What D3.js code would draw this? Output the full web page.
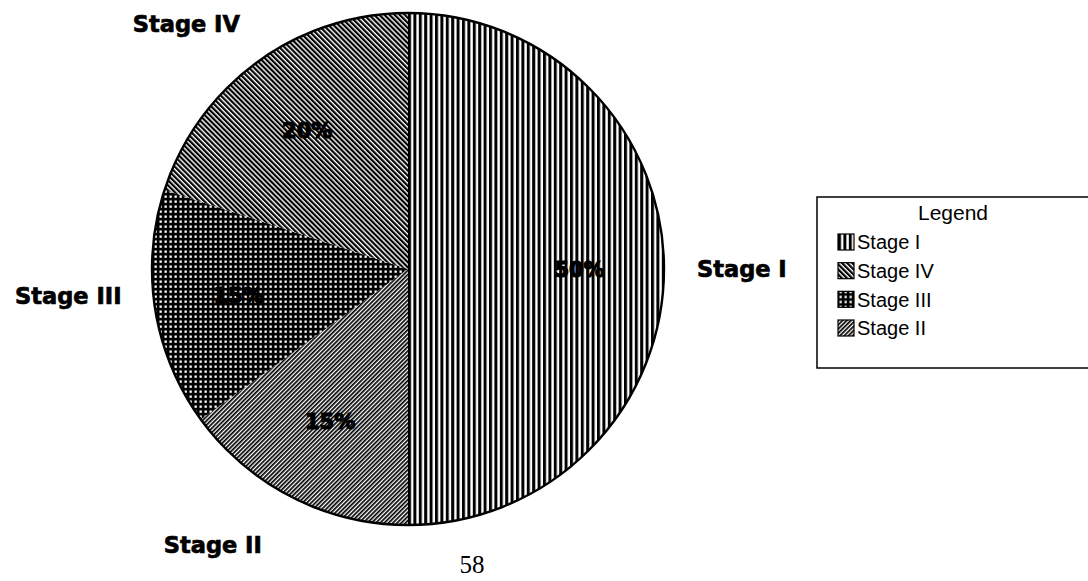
<!DOCTYPE html>
<html>
<head>
<meta charset="utf-8">
<script src="https://cdn.jsdelivr.net/npm/d3@7/dist/d3.min.js"></script>
<style>
  html, body { margin: 0; padding: 0; background: #fff; }
  svg { display: block; }
</style>
</head>
<body>
<svg id="chart" width="1088" height="581"></svg>
<script>
// ---- data ----
const categories = ["Stage I", "Stage II", "Stage III", "Stage IV"];
const values = [50, 15, 15, 20];
const pctLabels = ["50%", "15%", "15%", "20%"];
const legendOrder = ["Stage I", "Stage IV", "Stage III", "Stage II"];
const legendTitle = "Legend";
const pageNumber = "58";

// ---- layout ----
const cx = 408, cy = 269, R = 256;
const svg = d3.select("#chart");
const defs = svg.append("defs");

function pat(id) {
  return defs.append("pattern").attr("id", id).attr("patternUnits", "userSpaceOnUse");
}
// Stage I: vertical lines
const p1 = pat("p1").attr("width", 5.4).attr("height", 10);
p1.append("rect").attr("width", 5.4).attr("height", 10).attr("fill", "#fff");
p1.append("rect").attr("x", 0).attr("width", 3).attr("height", 10).attr("fill", "#000");
// Stage IV: "\" diagonals
const p4 = pat("p4").attr("width", 3.6).attr("height", 10).attr("patternTransform", "rotate(-45)");
p4.append("rect").attr("width", 3.6).attr("height", 10).attr("fill", "#fff");
p4.append("rect").attr("width", 2.2).attr("height", 10).attr("fill", "#000");
// Stage II: "/" diagonals, finer
const p2 = pat("p2").attr("width", 3.0).attr("height", 10).attr("patternTransform", "rotate(45)");
p2.append("rect").attr("width", 3.0).attr("height", 10).attr("fill", "#fff");
p2.append("rect").attr("width", 1.7).attr("height", 10).attr("fill", "#000");
// Stage III: grid (black with white squares)
const p3 = pat("p3").attr("width", 5).attr("height", 5);
p3.append("rect").attr("width", 5).attr("height", 5).attr("fill", "#000");
p3.append("rect").attr("x", 1.5).attr("y", 1.5).attr("width", 2.3).attr("height", 2.3).attr("fill", "#fff");

const fills = d3.scaleOrdinal()
  .domain(categories)
  .range(["url(#p1)", "url(#p2)", "url(#p3)", "url(#p4)"]);

const pie = d3.pie().sort(null).value(d => d.v).startAngle(0).endAngle(2 * Math.PI);
const arcs = pie(categories.map((c, i) => ({ c, v: values[i], p: pctLabels[i] })));

const g = svg.append("g").attr("transform", `translate(${cx},${cy})`);
const arc = d3.arc().innerRadius(0).outerRadius(R);
g.selectAll("path.slice").data(arcs).join("path")
  .attr("class", "slice")
  .attr("d", arc)
  .attr("fill", d => fills(d.data.c));
g.append("circle").attr("r", R).attr("fill", "none").attr("stroke", "#000").attr("stroke-width", 2.4);

// percentage labels
const inner = d3.arc().innerRadius(R * 0.67).outerRadius(R * 0.67);
g.selectAll("text.pct").data(arcs).join("text")
  .attr("class", "pct")
  .attr("transform", d => `translate(${inner.centroid(d)})`)
  .attr("text-anchor", "middle")
  .attr("dy", "0.36em")
  .style("font-family", "'DejaVu Sans', sans-serif")
  .style("font-weight", "bold")
  .style("font-size", "21px")
  .attr("fill", "#000")
  .attr("stroke", "#000")
  .attr("stroke-width", 1.2)
  .text(d => d.data.p);

// category labels outside
const outerTweak = { "Stage I": [289, 0], "Stage II": [322, -11], "Stage III": [290, -18], "Stage IV": [286, -14] };
g.selectAll("text.cat").data(arcs).join("text")
  .attr("class", "cat")
  .each(function (d) {
    const a = (d.startAngle + d.endAngle) / 2;
    const [r, dy] = outerTweak[d.data.c];
    const x = Math.sin(a) * r, y = -Math.cos(a) * r + dy;
    d3.select(this).attr("x", x).attr("y", y)
      .attr("text-anchor", Math.sin(a) > 0.01 ? "start" : "end");
  })
  .attr("dy", "0.36em")
  .style("font-family", "'DejaVu Sans', sans-serif")
  .style("font-weight", "bold")
  .style("font-size", "22.5px")
  .attr("fill", "#000")
  .attr("stroke", "#000")
  .attr("stroke-width", 0.7)
  .text(d => d.data.c);

// legend
const lx = 817, ly = 197, lw = 272, lh = 171;
const lg = svg.append("g");
lg.append("rect").attr("x", lx).attr("y", ly).attr("width", lw).attr("height", lh)
  .attr("fill", "#fff").attr("stroke", "#000").attr("stroke-width", 1.5);
lg.append("text").attr("x", 953).attr("y", 220).attr("text-anchor", "middle")
  .style("font-family", "'Liberation Sans', Arial, sans-serif").style("font-size", "21px")
  .text(legendTitle);
const ly0 = d3.scalePoint().domain(legendOrder).range([242, 328]);
const items = lg.selectAll("g.item").data(legendOrder).join("g").attr("class", "item")
  .attr("transform", d => `translate(838,${ly0(d)})`);
items.append("rect").attr("x", 0).attr("y", -8).attr("width", 16).attr("height", 16)
  .attr("fill", d => fills(d)).attr("stroke", "#000").attr("stroke-width", 1.2);
items.append("text").attr("x", 19).attr("dy", "0.36em")
  .style("font-family", "'Liberation Sans', Arial, sans-serif").style("font-size", "20px")
  .text(d => d);

// page number
svg.append("text").attr("x", 472).attr("y", 573).attr("text-anchor", "middle")
  .style("font-family", "'Liberation Serif', 'Times New Roman', serif").style("font-size", "25px")
  .text(pageNumber);
</script>
</body>
</html>
